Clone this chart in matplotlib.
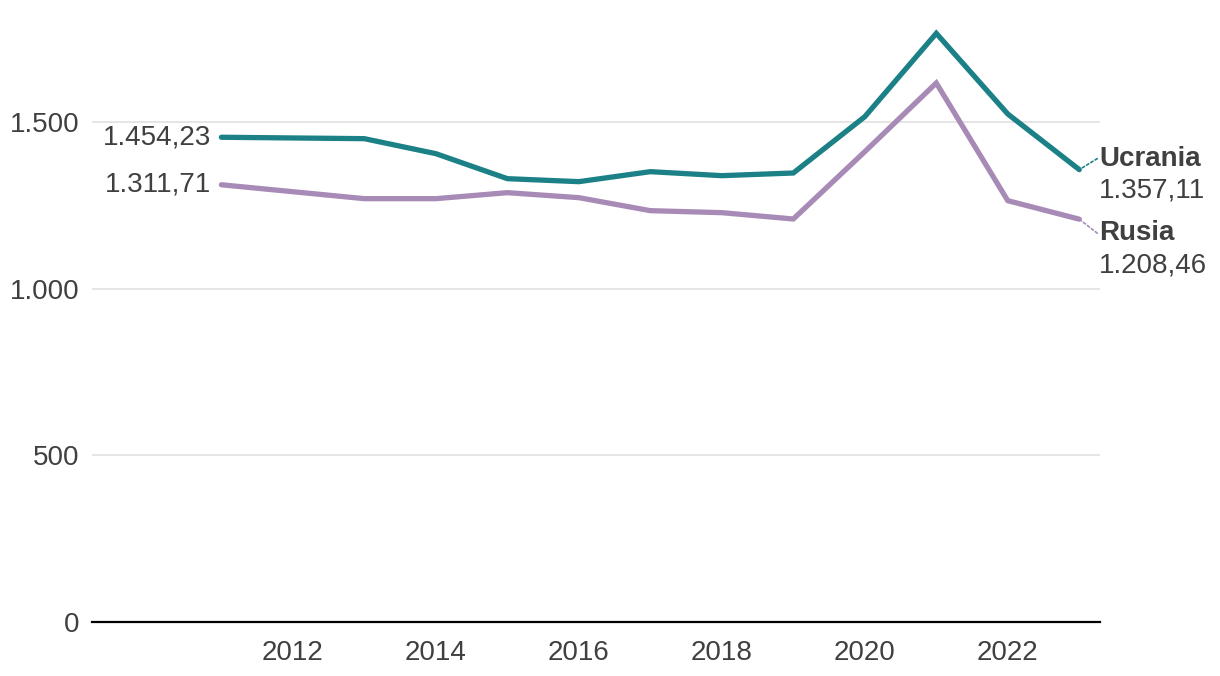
import matplotlib.pyplot as plt
from matplotlib.ticker import FuncFormatter

plt.rcParams["font.family"] = ["Liberation Sans", "DejaVu Sans"]

years = [2011, 2013, 2014, 2015, 2016, 2017, 2018, 2019, 2020, 2021, 2022, 2023]
ucrania = [1454.23, 1450, 1405, 1330, 1321, 1351, 1339, 1347, 1516, 1766, 1524, 1357.11]
rusia = [1311.71, 1270, 1270, 1288, 1273, 1234, 1228, 1209, 1411, 1617, 1264, 1208.46]

year_ticks = [2012, 2014, 2016, 2018, 2020, 2022]
value_ticks = [0, 500, 1000, 1500]

teal = "#1b8187"
purple = "#a88ab6"
text_color = "#404040"
fs = 20


def fmt_es(v, decimals=0):
    s = f"{v:,.{decimals}f}"
    return s.replace(",", "X").replace(".", ",").replace("X", ".")


W, H = 1220, 676
fig = plt.figure(figsize=(W / 100, H / 100), dpi=100)
ax = fig.add_axes([92 / W, (H - 622) / H, (1100 - 92) / W, 600 / H])

ax.plot(years, ucrania, color=teal, lw=3.8, solid_capstyle="round", solid_joinstyle="miter", zorder=3)
ax.plot(years, rusia, color=purple, lw=3.8, solid_capstyle="round", solid_joinstyle="miter", zorder=3)

ax.set_xlim(2009.19, 2023.29)
ax.set_ylim(0, 1800)

ax.set_yticks(value_ticks)
ax.yaxis.set_major_formatter(FuncFormatter(lambda v, p: fmt_es(v)))
ax.set_xticks(year_ticks)
ax.grid(axis="y", color="#e0e0e0", lw=1.2)
ax.set_axisbelow(True)
for s in ["top", "right", "left"]:
    ax.spines[s].set_visible(False)
ax.spines["bottom"].set_color("black")
ax.spines["bottom"].set_linewidth(1.6)
ax.tick_params(axis="both", length=0, labelsize=fs, labelcolor=text_color)
ax.tick_params(axis="y", pad=9)
ax.tick_params(axis="x", pad=13)

# start labels
ax.annotate(fmt_es(ucrania[0], 2), (years[0], ucrania[0]), xytext=(-10, 0),
            textcoords="offset pixels", ha="right", va="center",
            fontsize=fs, color=text_color)
ax.annotate(fmt_es(rusia[0], 2), (years[0], rusia[0]), xytext=(-10, 0),
            textcoords="offset pixels", ha="right", va="center",
            fontsize=fs, color=text_color)

# end labels with dotted connectors
for name, vals, col, dy in [("Ucrania", ucrania, teal, 11), ("Rusia", rusia, purple, -14)]:
    ax.annotate("", xy=(years[-1], vals[-1]), xytext=(18, dy), textcoords="offset pixels",
                arrowprops=dict(arrowstyle="-", color=col, lw=1.2, ls=(0, (1.5, 1.5)),
                                shrinkA=0, shrinkB=2))
    ax.annotate(name, (years[-1], vals[-1]), xytext=(20, dy), textcoords="offset pixels",
                ha="left", va="center", fontsize=fs, fontweight="bold", color=text_color)
    ax.annotate(fmt_es(vals[-1], 2), (years[-1], vals[-1]), xytext=(20, dy - 32),
                textcoords="offset pixels", ha="left", va="center",
                fontsize=fs, color=text_color)

fig.savefig("out.png", dpi=100)
